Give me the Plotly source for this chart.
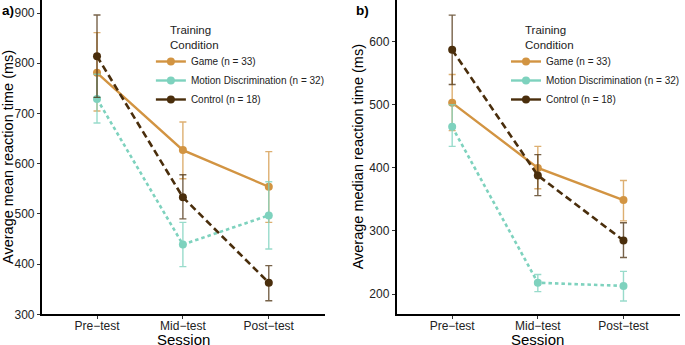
import plotly.graph_objects as go

# Sessions and groups
sessions = ["Pre\u2212test", "Mid\u2212test", "Post\u2212test"]
session_pos = [1, 2, 3]
groups = ["Game (n = 33)", "Motion Discrimination (n = 32)", "Control (n = 18)"]

# Panel a: average mean reaction time (ms) with error-bar bounds
mean_rt = {
    "Game (n = 33)": [781, 627, 554],
    "Motion Discrimination (n = 32)": [729, 439, 497],
    "Control (n = 18)": [814, 533, 363],
}
mean_rt_hi = {
    "Game (n = 33)": [861, 683, 624],
    "Motion Discrimination (n = 32)": [778, 483, 564],
    "Control (n = 18)": [896, 578, 397],
}
mean_rt_lo = {
    "Game (n = 33)": [705, 570, 483],
    "Motion Discrimination (n = 32)": [681, 395, 430],
    "Control (n = 18)": [732, 490, 327],
}

# Panel b: average median reaction time (ms) with error-bar bounds
median_rt = {
    "Game (n = 33)": [503, 400, 349],
    "Motion Discrimination (n = 32)": [465, 218, 213],
    "Control (n = 18)": [587, 388, 285],
}
median_rt_hi = {
    "Game (n = 33)": [548, 434, 380],
    "Motion Discrimination (n = 32)": [500, 231, 236],
    "Control (n = 18)": [642, 421, 313],
}
median_rt_lo = {
    "Game (n = 33)": [459, 367, 316],
    "Motion Discrimination (n = 32)": [434, 204, 189],
    "Control (n = 18)": [532, 356, 258],
}

yticks_a = [300, 400, 500, 600, 700, 800, 900]
yticks_b = [200, 300, 400, 500, 600]

line_col = {
    "Game (n = 33)": "rgb(210,148,66)",
    "Motion Discrimination (n = 32)": "rgb(126,210,190)",
    "Control (n = 18)": "rgb(74,46,12)",
}
err_col = {
    "Game (n = 33)": "rgba(210,148,66,0.75)",
    "Motion Discrimination (n = 32)": "rgba(126,210,190,0.8)",
    "Control (n = 18)": "rgba(74,46,12,0.75)",
}
dash = {
    "Game (n = 33)": "solid",
    "Motion Discrimination (n = 32)": "3.5px,3px",
    "Control (n = 18)": "7px,4px",
}
widths = {"Game (n = 33)": 2.4, "Motion Discrimination (n = 32)": 2.6, "Control (n = 18)": 2.6}

FONT = "Liberation Sans, Arial, sans-serif"
W, H = 685, 345

fig = go.Figure()

panels = [
    ("x", "y", mean_rt, mean_rt_hi, mean_rt_lo, "legend"),
    ("x2", "y2", median_rt, median_rt_hi, median_rt_lo, "legend2"),
]
for xa, ya, mid, hi, lo, leg in panels:
    for g in groups:
        fig.add_trace(go.Scatter(
            x=session_pos, y=mid[g], xaxis=xa, yaxis=ya,
            mode="lines+markers",
            line=dict(color=line_col[g], width=widths[g], dash=dash[g]),
            marker=dict(color=line_col[g], size=8),
            error_y=dict(type="data", symmetric=False,
                         array=[h - m for h, m in zip(hi[g], mid[g])],
                         arrayminus=[m - l for m, l in zip(mid[g], lo[g])],
                         color=err_col[g], thickness=1.4, width=3.5),
            showlegend=False, hoverinfo="skip",
        ))
    # legend keys
    for g in groups:
        fig.add_trace(go.Scatter(
            x=[None], y=[None], xaxis=xa, yaxis=ya, mode="lines+markers",
            name=g, legend=leg,
            line=dict(color=line_col[g], width=2.4),
            marker=dict(color=line_col[g], size=8),
        ))

ydom = [1 - 314.3 / H, 1]
axis_common = dict(showline=True, linecolor="black", linewidth=1.6,
                   ticks="outside", ticklen=3, tickwidth=1, tickcolor="#333",
                   showgrid=False, zeroline=False, automargin=False,
                   tickfont=dict(family=FONT, size=12, color="#222"))

legend_common = dict(xanchor="left", yanchor="top", bgcolor="rgba(0,0,0,0)",
                     font=dict(family=FONT, size=10, color="#222"),
                     itemwidth=30, tracegroupgap=0)

fig.update_layout(
    width=W, height=H,
    margin=dict(l=0, r=0, t=0, b=0),
    paper_bgcolor="white", plot_bgcolor="white",
    font=dict(family=FONT, color="black"),
    xaxis=dict(domain=[42 / W, 327 / W], range=[0.356, 3.65], ticklabelstandoff=-4,
               tickvals=session_pos, ticktext=sessions, anchor="y", **axis_common),
    yaxis=dict(domain=ydom, range=[300, 926], tickvals=yticks_a, anchor="x", **axis_common),
    xaxis2=dict(domain=[399.5 / W, 1.0], range=[0.351, 3.66], ticklabelstandoff=-4,
                tickvals=session_pos, ticktext=sessions, anchor="y2", **axis_common),
    yaxis2=dict(domain=ydom, range=[168, 666], tickvals=yticks_b, anchor="x2", **axis_common),
    legend=dict(x=152 / W, y=1 - 47 / H, **legend_common),
    legend2=dict(x=510 / W, y=1 - 47 / H, **legend_common),
)

ann = []
# panel tags
ann.append(dict(text="<b>a)</b>", x=0, y=1 - 1 / H, xref="paper", yref="paper",
                xanchor="left", yanchor="top", showarrow=False, font=dict(size=13.5, family=FONT)))
ann.append(dict(text="<b>b)</b>", x=357 / W, y=1 - 1 / H, xref="paper", yref="paper",
                xanchor="left", yanchor="top", showarrow=False, font=dict(size=13.5, family=FONT)))
# y-axis titles
ann.append(dict(text="Average mean reaction time (ms)", x=8 / W, y=1 - 157 / H,
                xref="paper", yref="paper", xanchor="center", yanchor="middle",
                textangle=-90, showarrow=False, font=dict(size=14.5, family=FONT)))
ann.append(dict(text="Average median reaction time (ms)", x=361 / W, y=1 - 157 / H,
                xref="paper", yref="paper", xanchor="center", yanchor="middle",
                textangle=-90, showarrow=False, font=dict(size=14.5, family=FONT)))
# x-axis titles
for sx in (184.5, 541.7):
    ann.append(dict(text="Session", x=sx / W, y=1 - 339.5 / H, xref="paper", yref="paper",
                    xanchor="center", yanchor="middle", showarrow=False,
                    font=dict(size=15, family=FONT)))
# legend titles
for lx in (169, 526.7):
    ann.append(dict(text="Training<br>Condition", x=lx / W, y=1 - 22 / H,
                    xref="paper", yref="paper", xanchor="left", yanchor="top",
                    align="left", showarrow=False,
                    font=dict(size=11.5, family=FONT, color="#222")))
fig.update_layout(annotations=ann)

fig.write_html("out.html")
